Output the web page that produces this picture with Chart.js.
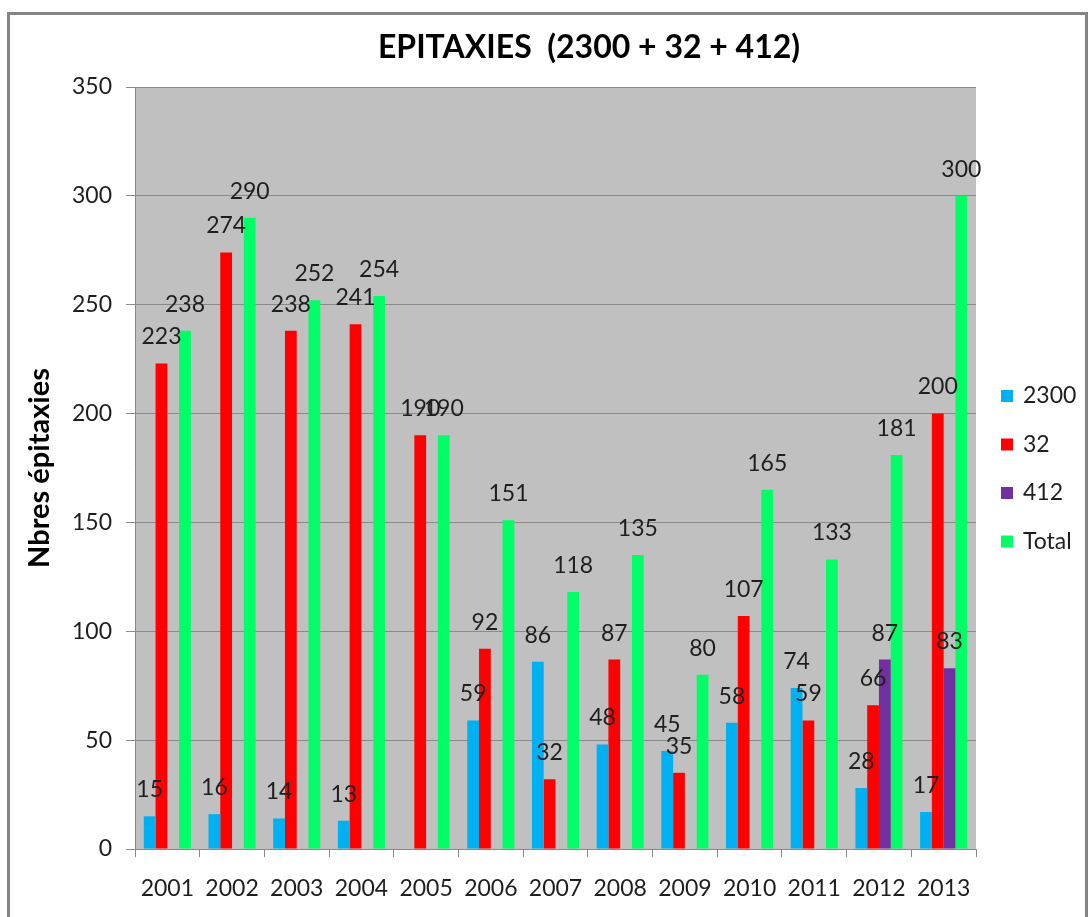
<!DOCTYPE html>
<html>
<head>
<meta charset="utf-8">
<title>EPITAXIES</title>
<script src="https://cdn.jsdelivr.net/npm/chart.js@4.4.1/dist/chart.umd.min.js"></script>
<style>
  html, body { margin: 0; padding: 0; background: #fff; }
  #wrap { position: relative; width: 1089px; height: 917px; }
</style>
</head>
<body>
<div id="wrap"><canvas id="epi_graph" width="1089" height="917"></canvas></div>
<script>
// années et nombre d'épitaxies par réacteur
const annees = ['2001', '2002', '2003', '2004', '2005', '2006', '2007', '2008', '2009', '2010', '2011', '2012', '2013'];
const serie2300 = [15, 16, 14, 13, null, 59, 86, 48, 45, 58, 74, 28, 17];
const serie32 = [223, 274, 238, 241, 190, 92, 32, 87, 35, 107, 59, 66, 200];
const serie412 = [null, null, null, null, null, null, null, null, null, null, null, 87, 83];
const serieTotal = [238, 290, 252, 254, 190, 151, 118, 135, 80, 165, 133, 181, 300];

const TITRE = 'EPITAXIES  (2300 + 32 + 412)';
const POLICE = 'Lato, "Open Sans", sans-serif';
const TEXTE = '#1e1e1e';

// fond gris de la zone de tracé, cadre extérieur et titre
const fondPlugin = {
    id: 'fond',
    beforeDraw(chart) {
        const { ctx, chartArea: a } = chart;
        ctx.save();
        ctx.fillStyle = '#c0c0c0';
        ctx.fillRect(a.left, a.top, a.right - a.left, a.bottom - a.top);
        ctx.strokeStyle = '#858585';
        ctx.lineWidth = 3;
        ctx.strokeRect(8.5, 13.5, 1078, 930);
        ctx.fillStyle = '#000';
        ctx.font = 'bold 32px ' + POLICE;
        ctx.textAlign = 'center';
        ctx.textBaseline = 'middle';
        ctx.fillText(TITRE, 589, 48);
        ctx.restore();
    }
};

// valeurs au-dessus de chaque barre
const etiquettesPlugin = {
    id: 'etiquettes',
    afterDatasetsDraw(chart) {
        const ctx = chart.ctx;
        ctx.save();
        ctx.font = '23px ' + POLICE;
        ctx.fillStyle = TEXTE;
        ctx.textAlign = 'center';
        ctx.textBaseline = 'bottom';
        chart.data.datasets.forEach((ds, i) => {
            chart.getDatasetMeta(i).data.forEach((bar, j) => {
                const v = ds.data[j];
                if (v === null || v === undefined) return;
                ctx.fillText(String(v), bar.x, bar.y - 15);
            });
        });
        ctx.restore();
    }
};

// légende à droite
const legendePlugin = {
    id: 'legende',
    afterDraw(chart) {
        const ctx = chart.ctx;
        ctx.save();
        ctx.font = '23px ' + POLICE;
        ctx.textBaseline = 'middle';
        chart.data.datasets.forEach((ds, i) => {
            const y = 396 + i * 48.5;
            ctx.fillStyle = ds.backgroundColor;
            ctx.fillRect(1001, y - 6, 12, 12);
            ctx.fillStyle = TEXTE;
            ctx.fillText(ds.label, 1023, y);
        });
        ctx.restore();
    }
};

const ctx = document.getElementById('epi_graph');
new Chart(ctx.getContext('2d'), {
    type: 'bar',
    data: {
        labels: annees,
        datasets: [
            { label: '2300', data: serie2300, backgroundColor: '#00b0f0' },
            { label: '32', data: serie32, backgroundColor: '#ff0000' },
            { label: '412', data: serie412, backgroundColor: '#7030a0' },
            { label: 'Total', data: serieTotal, backgroundColor: '#00ff66' }
        ]
    },
    options: {
        responsive: false,
        animation: false,
        datasets: {
            bar: { categoryPercentage: 0.728, barPercentage: 1.0, borderWidth: 0 }
        },
        layout: { padding: { left: 0, right: 113, top: 87, bottom: 0 } },
        plugins: {
            legend: { display: false },
            tooltip: { enabled: false },
            title: { display: false }
        },
        scales: {
            x: {
                grid: { display: true, drawOnChartArea: false, drawTicks: true, tickLength: 8, color: '#888' },
                border: { color: '#888' },
                ticks: { color: TEXTE, font: { family: POLICE, size: 23 }, padding: 18 },
                afterFit(scale) { scale.height = 68; }
            },
            y: {
                min: 0,
                max: 350,
                ticks: { stepSize: 50, color: TEXTE, font: { family: POLICE, size: 23 }, padding: 14 },
                grid: { color: '#8a8a8a', tickLength: 9 },
                border: { color: '#888' },
                title: {
                    display: true,
                    text: 'Nbres épitaxies',
                    color: '#000',
                    font: { family: POLICE, size: 29, weight: 'bold' },
                    padding: { top: 22, bottom: 0 }
                },
                afterFit(scale) { scale.width = 135; }
            }
        }
    },
    plugins: [fondPlugin, etiquettesPlugin, legendePlugin]
});
</script>
</body>
</html>
